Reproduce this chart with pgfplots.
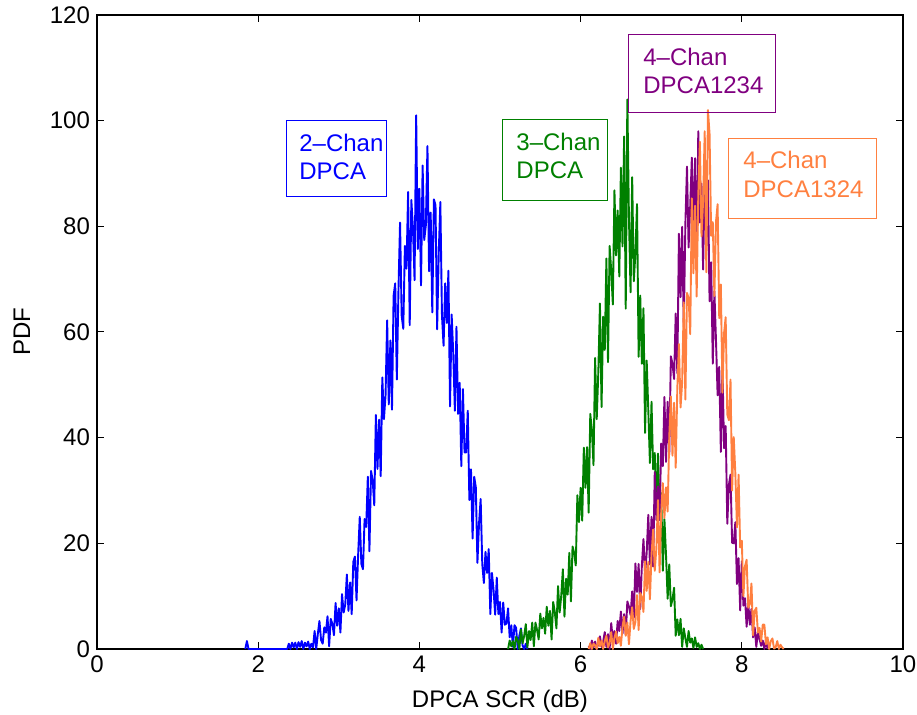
\documentclass[border=0pt]{standalone}
\usepackage{fontspec}
\setmainfont{Liberation Sans}
\usepackage{pgfplots}
\pgfplotsset{compat=1.18}
\definecolor{mblue}{RGB}{0,0,255}
\definecolor{mgreen}{RGB}{0,128,0}
\definecolor{mpurple}{RGB}{128,0,128}
\definecolor{morange}{RGB}{255,128,64}
\newcommand{\tf}{\fontsize{12}{14}\selectfont}
\begin{document}
\begin{tikzpicture}
\useasboundingbox (-48.5pt,-33pt) rectangle (410pt,324.5pt);
\begin{axis}[
 at={(0,0)}, anchor=south west,
 scale only axis, width=403pt, height=317pt,
 xmin=0, xmax=10, ymin=0, ymax=120,
 xtick={0,2,4,6,8,10}, ytick={0,20,40,60,80,100,120},
 tick align=inside, major tick length=3.5pt,
 axis line style={line width=0.6pt},
 tick style={line width=0.5pt, black},
 tick label style={font=\tf},
 label style={font=\tf},
 /pgf/number format/assume math mode=true,
 xlabel={DPCA SCR (dB)}, ylabel={PDF},
 xlabel style={at={(axis description cs:0.5,-0.0915)}, anchor=base},
 ylabel style={at={(axis description cs:-0.0831,0.5)}, anchor=base},
 clip=false,
 every axis plot/.append style={line width=0.95pt, line join=round},
]
% 2-Chan DPCA
\addplot[mblue] coordinates {
(1.84,0) (1.86,1.5) (1.88,0) (2.36,0) (2.38,1) (2.40,0) (2.42,1.2) (2.44,0.3) (2.46,1.2) (2.48,0) (2.50,1.3) (2.52,0.4) (2.54,1.5) (2.56,0) (2.58,1.2) (2.60,0.5) (2.62,1.4) (2.64,0) (2.66,1) (2.68,0.3)
(2.70,3.4) (2.72,0) (2.74,2.9) (2.76,5.3) (2.78,1.7) (2.80,1.0) (2.82,4.1) (2.84,3.1) (2.86,6.2) (2.88,0.5) (2.90,5.7) (2.92,4.8) (2.94,2.6) (2.96,8.7) (2.98,4.4) (3.00,7.7) (3.02,3.1) (3.04,10.4) (3.06,6.9) (3.08,8.4) (3.10,14.1) (3.12,7.2) (3.14,12.6) (3.16,6.6) (3.18,16.5) (3.20,17.5) (3.22,9.2) (3.24,17.8) (3.26,25) (3.28,16.1) (3.30,15.1) (3.32,24.6) (3.34,23.1) (3.36,32.6) (3.38,18.5) (3.40,33.7) (3.42,32) (3.44,27.2) (3.46,44.3) (3.48,34.1) (3.50,43.4) (3.52,32.7) (3.54,51.4) (3.56,43.5) (3.58,48) (3.60,62.2) (3.62,46.3) (3.64,58.4) (3.66,45.3) (3.68,66.9) (3.70,69.2) (3.72,51) (3.74,67.7) (3.76,80.7) (3.78,63.1) (3.80,60.6) (3.82,76.3) (3.84,72) (3.86,86.5) (3.88,61.3) (3.90,85) (3.92,79.7) (3.94,69.8) (3.96,101) (3.98,75.7) (4.00,87.1) (4.02,68.8) (4.04,91.5) (4.06,77.4) (4.08,80.2) (4.10,95.2) (4.12,71.5) (4.14,82.6) (4.16,63.7) (4.18,85.1) (4.20,84) (4.22,60.5) (4.24,74.9) (4.26,84.6) (4.28,63.1) (4.30,57.4) (4.32,69.2) (4.34,61.7) (4.36,71.6) (4.38,45.9) (4.40,63.3) (4.42,56) (4.44,45.1) (4.46,61) (4.48,44.5) (4.50,50.4) (4.52,34.6) (4.54,49.2) (4.56,37.2) (4.58,37.2) (4.60,45.1) (4.62,28.2) (4.64,34) (4.66,20.9) (4.68,32.6) (4.70,30.6) (4.72,16.3) (4.74,23.8) (4.76,28.4) (4.78,16.1) (4.80,12.5) (4.82,18.4) (4.84,14.4) (4.86,18.9) (4.88,6.6) (4.90,14.4) (4.92,11.2) (4.94,6.5) (4.96,13.5) (4.98,6.6) (5.00,8.9) (5.02,3.1) (5.04,8.8) (5.06,4.6) (5.08,4.8) (5.10,7.7) (5.12,2.2) (5.14,4.5) (5.16,0.4) (5.18,4.5) (5.20,4) (5.22,0) (5.24,2.5) (5.26,3.9) (5.28,0.7) (5.30,0) (5.32,1) (5.34,0)
};
% 3-Chan DPCA
\addplot[mgreen] coordinates {
(5.10,0) (5.12,1.6) (5.14,0.5) (5.16,1.5) (5.18,0) (5.20,2.3) (5.22,1.6) (5.24,0) (5.26,3.7) (5.28,1.1) (5.30,2.5) (5.32,4.7) (5.34,0.3) (5.36,3.4) (5.38,1.7) (5.40,5) (5.42,0.5) (5.44,5) (5.46,3.6) (5.48,1.8) (5.50,6.7) (5.52,3.9) (5.54,5.9) (5.56,2.9) (5.58,8) (5.60,4.4) (5.62,7.2) (5.64,1.8) (5.66,8.9) (5.68,7) (5.70,3.9) (5.72,11.9) (5.74,6.9) (5.76,10.1) (5.78,15.1) (5.80,6.1) (5.82,13.3) (5.84,10.3) (5.86,18.2) (5.88,9) (5.90,19.4) (5.92,18.2) (5.94,15.8) (5.96,29.1) (5.98,24) (6.00,30.5) (6.02,24.3) (6.04,38.1) (6.06,30.5) (6.08,38.2) (6.10,25.8) (6.12,44.5) (6.14,41.5) (6.16,34.8) (6.18,55.1) (6.20,43.5) (6.22,52.4) (6.24,65.4) (6.26,45.8) (6.28,62.9) (6.30,56.6) (6.32,73.9) (6.34,54.3) (6.36,76.3) (6.38,71.6) (6.40,65.2) (6.42,86.8) (6.44,74.5) (6.46,83) (6.48,70.5) (6.50,91.1) (6.52,76.2) (6.54,97) (6.56,64.4) (6.58,104) (6.60,81.5) (6.62,67.5) (6.64,89.3) (6.66,69.6) (6.68,74.9) (6.70,84.2) (6.72,55.3) (6.74,66.9) (6.76,54) (6.78,64.5) (6.80,40.9) (6.82,54.6) (6.84,45.2) (6.86,35.2) (6.88,46.8) (6.90,34) (6.92,37.1) (6.94,26.7) (6.96,37) (6.98,26) (7.00,29.5) (7.02,14.8) (7.04,24.6) (7.06,17.7) (7.08,9.5) (7.10,16) (7.12,8.1) (7.14,9.4) (7.16,11.6) (7.18,2.5) (7.20,5.6) (7.22,2.6) (7.24,5.7) (7.26,0.4) (7.28,3.9) (7.30,2) (7.32,0.4) (7.34,3.4) (7.36,1.2) (7.38,2) (7.40,0.2) (7.42,2.2) (7.44,0.4) (7.46,1.1) (7.48,0) (7.50,0.8) (7.52,0)
};
% 4-Chan DPCA1234
\addplot[mpurple] coordinates {
(6.10,0.6) (6.12,0) (6.14,1.6) (6.16,0.3) (6.18,1.4) (6.20,0) (6.22,1.1) (6.24,2.4) (6.26,0.4) (6.28,1.4) (6.30,3.2) (6.32,0.4) (6.34,2.8) (6.36,0) (6.38,4.9) (6.40,1.7) (6.42,3.4) (6.44,1) (6.46,5.3) (6.48,3.4) (6.50,7.1) (6.52,2.9) (6.54,6.6) (6.56,2.7) (6.58,9) (6.60,8) (6.62,6.4) (6.64,10.9) (6.66,5.9) (6.68,16.2) (6.70,10.8) (6.72,16.1) (6.74,7.6) (6.76,15.7) (6.78,20.8) (6.80,14.2) (6.82,18.2) (6.84,25.4) (6.86,16) (6.88,25) (6.90,15.6) (6.92,33.5) (6.94,24.4) (6.96,30.8) (6.98,24.4) (7.00,38.9) (7.02,34.6) (7.04,47.7) (7.06,35.4) (7.08,46.8) (7.10,36.8) (7.12,55.4) (7.14,54) (7.16,51.1) (7.18,63.5) (7.20,52.2) (7.22,78.6) (7.24,66.6) (7.26,79.9) (7.28,61) (7.30,80.5) (7.32,91.3) (7.34,76) (7.36,83.8) (7.38,93) (7.40,77.5) (7.42,92.9) (7.44,72) (7.46,98) (7.48,80.7) (7.50,88.1) (7.52,71.8) (7.54,89.3) (7.56,76.3) (7.58,88.7) (7.60,65.8) (7.62,73.2) (7.64,54) (7.66,67.7) (7.68,58.3) (7.70,48) (7.72,53.4) (7.74,37.3) (7.76,53.5) (7.78,38) (7.80,42.2) (7.82,23.7) (7.84,31.1) (7.86,33) (7.88,20.1) (7.90,20) (7.92,24) (7.94,12.3) (7.96,17.2) (7.98,7.3) (8.00,16.6) (8.02,8.2) (8.04,9.6) (8.06,4.2) (8.08,8.7) (8.10,4.6) (8.12,7.6) (8.14,2.2) (8.16,4.1) (8.18,0.4) (8.20,3.2) (8.22,1.9) (8.24,0.6) (8.26,1.6) (8.28,0) (8.30,1.6) (8.32,0)
};
% 4-Chan DPCA1324
\addplot[morange] coordinates {
(6.10,0) (6.12,1.1) (6.14,0) (6.16,1) (6.18,0.7) (6.20,0) (6.22,2.1) (6.24,0.5) (6.26,1.6) (6.28,0) (6.30,1.5) (6.32,2.5) (6.34,0.3) (6.36,1.1) (6.38,3.2) (6.40,0) (6.42,2.1) (6.44,3.3) (6.46,1.1) (6.48,2.3) (6.50,0.6) (6.52,4.2) (6.54,6.1) (6.56,2.5) (6.58,5) (6.60,0.9) (6.62,5.3) (6.64,7.9) (6.66,3.8) (6.68,5.1) (6.70,10.2) (6.72,3.6) (6.74,10.6) (6.76,9.9) (6.78,7) (6.80,16.6) (6.82,11) (6.84,16.5) (6.86,9.4) (6.88,17.8) (6.90,22.6) (6.92,14.8) (6.94,19) (6.96,28.2) (6.98,14.5) (7.00,25.7) (7.02,31.4) (7.04,24.8) (7.06,30.6) (7.08,26) (7.10,40.1) (7.12,47.8) (7.14,36.6) (7.16,46.6) (7.18,34.3) (7.20,49.3) (7.22,57.7) (7.24,45.7) (7.26,50.5) (7.28,65.6) (7.30,47.2) (7.32,67.4) (7.34,66.4) (7.36,59.6) (7.38,85.3) (7.40,71.1) (7.42,83.9) (7.44,66.7) (7.46,85.8) (7.48,96) (7.50,78.1) (7.52,84.8) (7.54,98) (7.56,71.3) (7.58,102) (7.60,97.5) (7.62,78.2) (7.64,80.8) (7.66,66.8) (7.68,80.9) (7.70,84.2) (7.72,62.6) (7.74,69) (7.76,48.5) (7.78,59.8) (7.80,62.8) (7.82,44.4) (7.84,43.3) (7.86,51) (7.88,30) (7.90,40.1) (7.92,33.2) (7.94,23) (7.96,33) (7.98,19.2) (8.00,20.5) (8.02,10) (8.04,15.7) (8.06,16.9) (8.08,7.8) (8.10,8.5) (8.12,12.4) (8.14,2.6) (8.16,7.2) (8.18,7.8) (8.20,3.1) (8.22,4) (8.24,1.4) (8.26,4.6) (8.28,4.6) (8.30,0.9) (8.32,2.2) (8.34,0) (8.36,1.5) (8.38,2) (8.40,0.1) (8.42,0.3) (8.44,1.5) (8.46,0) (8.48,0.8) (8.50,0.3) (8.52,0)
};
% annotation boxes
\draw[mblue, line width=0.5pt] (axis cs:2.357,85.6) rectangle (axis cs:3.598,100.1);
\node[anchor=base west, inner sep=0pt, text=mblue, font=\tf] at (axis cs:2.506,94.17) {2–Chan};
\node[anchor=base west, inner sep=0pt, text=mblue, font=\tf] at (axis cs:2.506,88.9) {DPCA};
\draw[mgreen, line width=0.5pt] (axis cs:5.025,84.8) rectangle (axis cs:6.328,100.3);
\node[anchor=base west, inner sep=0pt, text=mgreen, font=\tf] at (axis cs:5.199,94.36) {3–Chan};
\node[anchor=base west, inner sep=0pt, text=mgreen, font=\tf] at (axis cs:5.199,89.1) {DPCA};
\draw[mpurple, line width=0.5pt] (axis cs:6.60,101.6) rectangle (axis cs:8.424,116.4);
\node[anchor=base west, inner sep=0pt, text=mpurple, font=\tf] at (axis cs:6.774,110.4) {4–Chan};
\node[anchor=base west, inner sep=0pt, text=mpurple, font=\tf] at (axis cs:6.774,105.2) {DPCA1234};
\draw[morange, line width=0.5pt] (axis cs:7.841,81.4) rectangle (axis cs:9.677,96.7);
\node[anchor=base west, inner sep=0pt, text=morange, font=\tf] at (axis cs:8.015,90.86) {4–Chan};
\node[anchor=base west, inner sep=0pt, text=morange, font=\tf] at (axis cs:8.015,85.4) {DPCA1324};
\end{axis}
\end{tikzpicture}
\end{document}
